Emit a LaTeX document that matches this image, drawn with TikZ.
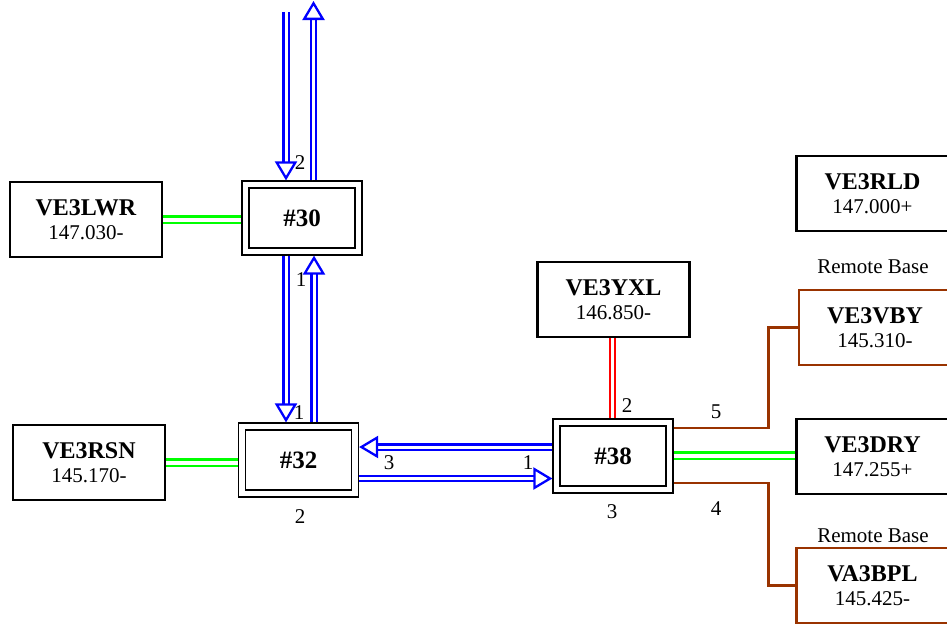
\documentclass[tikz,border=0pt]{standalone}
\usepackage{fontspec}
\setmainfont{Liberation Serif}
\usetikzlibrary{arrows.meta}
\definecolor{linkbrown}{RGB}{153,51,0}
\tikzset{
  station/.style={draw,line width=2.2pt,minimum width=152pt,minimum height=75pt,align=center,inner sep=0pt,font=\fontsize{21}{24}\selectfont},
  remotebox/.style={station,draw=linkbrown},
  hub/.style={draw,line width=1.2pt,minimum width=120pt,minimum height=74pt,inner sep=0pt,font=\fontsize{25}{28}\selectfont\bfseries,
    path picture={\draw[line width=1.2pt] ([shift={(7pt,-7pt)}]path picture bounding box.north west) rectangle ([shift={(-7pt,7pt)}]path picture bounding box.south east);}},
  feed/.style={draw=blue,line width=2.3pt,double=white,double distance=3pt,-{Triangle[open,fill=white,length=19pt,width=22pt,line width=2.3pt]}},
  local/.style={draw=green,line width=2.2pt,double=white,double distance=4pt},
  uhf/.style={draw=red,line width=1.7pt,double=white,double distance=3.5pt},
  rb/.style={draw=linkbrown,line width=2.4pt},
  port/.style={inner sep=0pt,font=\fontsize{21}{24}\selectfont}
}
\begin{document}
\begin{tikzpicture}[x=1pt,y=-1pt]
    \useasboundingbox (0,0) rectangle (947,624);

    % — Repeaters
    \node [station] (lwr) at (86, 219.5) {\textbf{\fontsize{24}{24}\selectfont VE3LWR}\\147.030-};
    \node [station] (rsn) at (89, 462.5) {\textbf{\fontsize{24}{24}\selectfont VE3RSN}\\145.170-};
    \node [station] (yxl) at (613.5, 299.5) {\textbf{\fontsize{24}{24}\selectfont VE3YXL}\\146.850-};
    \node [station] (rld) at (872.5, 193.5) {\textbf{\fontsize{24}{24}\selectfont VE3RLD}\\147.000+};
    \node [station] (dry) at (872.5, 456.5) {\textbf{\fontsize{24}{24}\selectfont VE3DRY}\\147.255+};
    \node [remotebox] (vby) at (875, 327.5) {\textbf{\fontsize{24}{24}\selectfont VE3VBY}\\145.310-};
    \node [remotebox] (bpl) at (872.5, 585.5) {\textbf{\fontsize{24}{24}\selectfont VA3BPL}\\145.425-};
    \node [port] (rbvby) at (873, 267) {Remote Base};
    \node [port] (rbbpl) at (873, 536) {Remote Base};

    % — Hubs
    \node [hub] (h30) at (302, 218) {\#30};
    \node [hub] (h32) at (298.5, 460) {\#32};
    \node [hub] (h38) at (613, 456) {\#38};

    % — Free ends of the top links
    \coordinate (in30)  at (286, 12);
    \coordinate (out30) at (313.5, 1);

    % — Blue links between hubs
    \draw [feed] (in30) -- (in30 |- h30.north);
    \draw [feed] ([xshift=11.5pt]h30.north) -- (out30);
    \draw [feed] ([xshift=-16pt]h30.south) -- ([xshift=-16pt]h30.south |- h32.north);
    \draw [feed] ([xshift=15.5pt]h32.north) -- ([xshift=15.5pt]h32.north |- h30.south);
    \draw [feed] ([yshift=9pt]h38.west) -- ([yshift=9pt]h38.west -| h32.east);
    \draw [feed] ([yshift=-18.5pt]h32.east) -- ([yshift=-18.5pt]h32.east -| h38.west);

    % — Local links
    \draw [local] (lwr.east) -- (lwr.east -| h30.west);
    \draw [local] (rsn.east) -- (rsn.east -| h32.west);
    \draw [local] ([yshift=0.5pt]h38.east) -- ([yshift=0.5pt]h38.east -| dry.west);
    \draw [uhf] ([xshift=-1pt]yxl.south) -- ([xshift=-1pt]yxl.south |- h38.north);
    \draw [rb] ([yshift=28pt]h38.east) -- ++(95,0) |- (vby.west);
    \draw [rb] ([yshift=-27pt]h38.east) -- ++(95,0) |- (bpl.west);

    % — Port numbers
    \node [port] (p30a) at (300, 163) {2};
    \node [port] (p30b) at (301, 280) {1};
    \node [port] (p32a) at (299, 413) {1};
    \node [port] (p32b) at (300, 517) {2};
    \node [port] (p32c) at (389, 463) {3};
    \node [port] (p38a) at (528, 463) {1};
    \node [port] (p38b) at (627, 406) {2};
    \node [port] (p38c) at (612, 512) {3};
    \node [port] (p38d) at (716, 412) {5};
    \node [port] (p38e) at (716, 509) {4};
\end{tikzpicture}
\end{document}
